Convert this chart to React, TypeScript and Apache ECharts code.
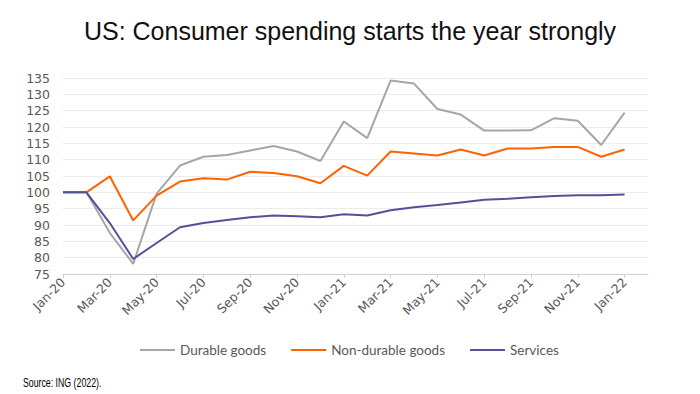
import React, { useEffect, useRef } from "react";
import * as echarts from "echarts";

const months = [
  "Jan-20", "Feb-20", "Mar-20", "Apr-20", "May-20", "Jun-20", "Jul-20", "Aug-20", "Sep-20", "Oct-20", "Nov-20", "Dec-20",
  "Jan-21", "Feb-21", "Mar-21", "Apr-21", "May-21", "Jun-21", "Jul-21", "Aug-21", "Sep-21", "Oct-21", "Nov-21", "Dec-21",
  "Jan-22", "Feb-22",
];

const durableGoods = [
  100, 100, 87.6, 78.1, 99.6, 108.2, 110.9, 111.4, 112.8, 114.2, 112.5, 109.6,
  121.7, 116.6, 134.2, 133.3, 125.5, 123.8, 118.9, 118.9, 119.0, 122.7, 121.9, 114.5,
  124.4,
];

const nonDurableGoods = [
  100, 100, 104.9, 91.4, 99.0, 103.3, 104.3, 103.9, 106.3, 105.9, 104.9, 102.8,
  108.1, 105.1, 112.5, 111.9, 111.3, 113.1, 111.3, 113.4, 113.4, 113.9, 113.9, 110.9,
  113.1,
];

const services = [
  100, 100, 90.6, 79.6, 84.5, 89.3, 90.6, 91.5, 92.4, 92.9, 92.7, 92.4,
  93.3, 92.9, 94.5, 95.4, 96.1, 96.9, 97.7, 98.0, 98.5, 98.9, 99.1, 99.1,
  99.3,
];

const seriesNames = ["Durable goods", "Non-durable goods", "Services"];
const seriesColors = ["#a6a6a6", "#ff6200", "#525199"];

export default function App() {
  const ref = useRef<HTMLDivElement>(null);
  useEffect(() => {
    if (!ref.current) return;
    const chart = echarts.init(ref.current, null, { renderer: "svg" });
    const dataSets = [durableGoods, nonDurableGoods, services];
    chart.setOption({
      animation: false,
      backgroundColor: "#ffffff",
      title: {
        text: "US: Consumer spending starts the year strongly",
        left: "center",
        top: 13,
        textStyle: {
          fontFamily: "Liberation Sans",
          fontSize: 25,
          fontWeight: "normal",
          color: "#111111",
        },
      },
      legend: {
        data: seriesNames,
        left: 135,
        top: 338,
        icon: "rect",
        itemWidth: 35,
        itemHeight: 2,
        itemGap: 25,
        textStyle: { color: "#595959", fontSize: 13.5, fontFamily: "Lato" },
      },
      graphic: [
        {
          type: "text",
          x: 23,
          y: 376,
          scaleX: 0.73,
          style: {
            text: "Source: ING (2022).",
            fill: "#000000",
            fontSize: 12,
            fontFamily: "Liberation Sans",
          },
        },
      ],
      grid: { left: 63, right: 52, top: 78, height: 196 },
      xAxis: {
        type: "category",
        data: months,
        boundaryGap: false,
        axisLine: { lineStyle: { color: "#d0d0d0", width: 1 } },
        axisTick: { interval: 1, length: 4, lineStyle: { color: "#d0d0d0" } },
        axisLabel: {
          interval: 1,
          rotate: 45,
          color: "#595959",
          fontSize: 12.5,
          fontFamily: "DejaVu Sans",
          margin: 6,
        },
        splitLine: { show: false },
      },
      yAxis: {
        type: "value",
        min: 75,
        max: 135,
        interval: 5,
        axisLine: { show: false },
        axisTick: { show: false },
        axisLabel: { color: "#595959", fontSize: 12.5, fontFamily: "DejaVu Sans", margin: 13 },
        splitLine: { lineStyle: { color: "#ececec", width: 1 } },
      },
      series: dataSets.map((d, i) => ({
        name: seriesNames[i],
        type: "line",
        data: d,
        symbol: "none",
        lineStyle: { color: seriesColors[i], width: 2 },
        itemStyle: { color: seriesColors[i] },
      })),
    });
    return () => chart.dispose();
  }, []);
  return <div ref={ref} style={{ width: 700, height: 394, position: "absolute", left: 0, top: 0 }} />;
}
